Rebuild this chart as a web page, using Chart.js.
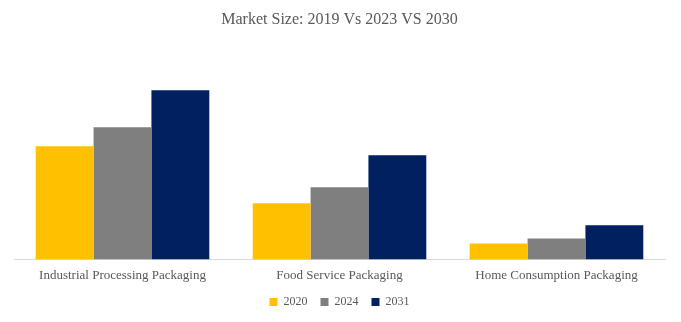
<!DOCTYPE html>
<html>
<head>
<meta charset="utf-8">
<script src="https://cdn.jsdelivr.net/npm/chart.js@4"></script>
<style>
  body { margin: 0; background: #fff; }
  #wrap { width: 681px; height: 322px; }
</style>
</head>
<body>
<div id="wrap"><canvas id="marketChart" width="681" height="322"></canvas></div>
<script>
const categories = ['Industrial Processing Packaging', 'Food Service Packaging', 'Home Consumption Packaging'];
const years = ['2020', '2024', '2031'];
const values2020 = [11.3, 5.6, 1.6];
const values2024 = [13.2, 7.2, 2.1];
const values2031 = [16.9, 10.4, 3.4];

const giallo = '#ffc000';
const grigio = '#7f7f7f';
const blu = '#002060';
const serif = "'Liberation Serif', 'DejaVu Serif', serif";

const ctx = document.getElementById('marketChart').getContext('2d');
const marketChart = new Chart(ctx, {
    type: 'bar',
    data: {
        labels: categories,
        datasets: [
            { label: years[0], data: values2020, backgroundColor: giallo },
            { label: years[1], data: values2024, backgroundColor: grigio },
            { label: years[2], data: values2031, backgroundColor: blu }
        ]
    },
    options: {
        responsive: false,
        animation: false,
        categoryPercentage: 0.8,
        barPercentage: 1.0,
        layout: { padding: { left: 14, right: 16, top: 0, bottom: 4 } },
        scales: {
            x: {
                grid: { display: false },
                border: { color: '#d9d9d9', width: 1 },
                ticks: { color: '#595959', font: { family: serif, size: 13 }, padding: 0 }
            },
            y: {
                display: false,
                min: 0,
                max: 20
            }
        },
        plugins: {
            title: {
                display: true,
                text: 'Market Size: 2019 Vs 2023 VS 2030',
                color: '#595959',
                font: { family: serif, size: 16, weight: 'normal' },
                padding: { top: 10, bottom: 30 }
            },
            legend: {
                display: true,
                position: 'bottom',
                labels: {
                    color: '#595959',
                    font: { family: serif, size: 12 },
                    boxWidth: 8,
                    boxHeight: 8,
                    padding: 13
                }
            },
            tooltip: { enabled: false }
        }
    }
});
</script>
</body>
</html>
